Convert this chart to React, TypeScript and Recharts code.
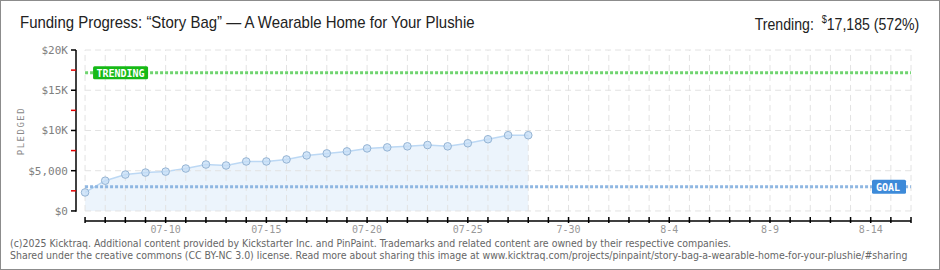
import { ComposedChart, Area, XAxis, YAxis, ReferenceLine } from "recharts";

if (typeof document !== "undefined") document.body.style.margin = "0";

// pledged totals per day, starting 07-06
const pledged = [
  2300, 3760, 4520, 4770, 4890, 5270, 5770, 5650, 6150, 6150, 6400, 6900,
  7150, 7400, 7770, 7900, 8030, 8190, 8030, 8410, 8910, 9410, 9410,
];
const dayCount = 42; // 07-06 .. 08-16
const labelDays = [4, 9, 14, 19, 24, 29, 34, 39];
const labelText = ["07-10", "07-15", "07-20", "07-25", "7-30", "8-4", "8-9", "8-14"];
const yTicks = [0, 2500, 5000, 7500, 10000, 12500, 15000, 17500, 20000];
const gridY = [0, 5000, 10000, 15000, 20000];
const goal = 3000;
const trending = 17185;

const data = pledged.map((v, i) => ({ day: i, value: v }));
const days = Array.from({ length: dayCount }, (_, i) => i);

const pixelFont = "'DejaVu Sans Mono', monospace";
const titleFont = "'Liberation Sans', Arial, sans-serif";

function fmtY(v: number) {
  if (v === 0) return "$0";
  if (v === 5000) return "$5,000";
  return `$${v / 1000}K`;
}

const YTick = (props: any) => {
  const { x, y, payload } = props;
  const major = payload.value % 5000 === 0;
  return (
    <g>
      <line x1={x + 3} x2={x + 8} y1={y} y2={y} stroke={major ? "#000" : "#e00000"} strokeWidth={1.5} />
      {major && (
        <text x={x} y={y} dy={4} textAnchor="end" fontSize={11} fontFamily={pixelFont} fill="#808080">
          {fmtY(payload.value)}
        </text>
      )}
    </g>
  );
};

const XTick = (props: any) => {
  const { x, y, payload } = props;
  const idx = labelDays.indexOf(payload.value);
  return (
    <g>
      <path d={`M${x},${y - 10}L${x},${y - 4}`} stroke="#000" strokeWidth={1.5} fill="none" />
      {idx >= 0 && (
        <text x={x} y={y + 6} textAnchor="middle" fontSize={10} fontFamily={pixelFont} fill="#999">
          {labelText[idx]}
        </text>
      )}
    </g>
  );
};

const TrendLabel = (props: any) => {
  const { viewBox } = props;
  const x = viewBox.x + 8;
  const y = viewBox.y;
  return (
    <g>
      <rect x={x} y={y - 6.5} width={55} height={13} rx={1.5} fill="#16b916" />
      <text x={x + 27.5} y={y + 4} textAnchor="middle" fontSize={10} fontWeight="bold" fontFamily={pixelFont} fill="#fff">
        TRENDING
      </text>
    </g>
  );
};

const GoalLabel = (props: any) => {
  const { viewBox } = props;
  const x = viewBox.x + viewBox.width - 39;
  const y = viewBox.y;
  return (
    <g>
      <rect x={x} y={y - 7} width={34} height={14} rx={1.5} fill="#3d8ad9" />
      <text x={x + 16} y={y + 4} textAnchor="middle" fontSize={10} fontWeight="bold" fontFamily={pixelFont} fill="#fff">
        GOAL
      </text>
    </g>
  );
};

export default function App() {
  return (
    <div
      style={{
        position: "relative",
        width: 940,
        height: 270,
        boxSizing: "border-box",
        border: "1px solid #8c8c8c",
        background: "#fff",
        overflow: "hidden",
      }}
    >
      <div
        style={{
          position: "absolute",
          left: 19,
          top: 12,
          fontFamily: titleFont,
          fontSize: 17,
          color: "#222",
          whiteSpace: "nowrap",
          transform: "scaleX(0.88)",
          transformOrigin: "left center",
        }}
      >
        Funding Progress: “Story Bag” — A Wearable Home for Your Plushie
      </div>
      <div
        style={{
          position: "absolute",
          right: 20,
          top: 12,
          fontFamily: titleFont,
          fontSize: 17,
          color: "#222",
          whiteSpace: "nowrap",
          transform: "scaleX(0.83)",
          transformOrigin: "right center",
        }}
      >
        Trending:&nbsp; <sup style={{ fontSize: 11 }}>$</sup>17,185 (572%)
      </div>
      <div
        style={{
          position: "absolute",
          left: 20,
          top: 130,
          transform: "translate(-50%, -50%) rotate(-90deg)",
          fontFamily: pixelFont,
          fontSize: 9,
          letterSpacing: 1.5,
          color: "#888",
        }}
      >
        PLEDGED
      </div>
      <div style={{ position: "absolute", left: 0, top: 0 }}>
        <ComposedChart width={938} height={268} data={data} margin={{ top: 49, right: 28, bottom: 18, left: 0 }}>
          <XAxis
            type="number"
            dataKey="day"
            domain={[-0.45, dayCount - 1]}
            allowDataOverflow
            ticks={days}
            interval={0}
            axisLine={false}
            tickLine={{ stroke: "transparent" }}
            tickSize={4}
            tickMargin={2}
            height={30}
            tick={<XTick />}
          />
          <YAxis
            type="number"
            domain={[-1250, 20000]}
            allowDataOverflow
            ticks={yTicks}
            interval={0}
            axisLine={false}
            tickLine={{ stroke: "transparent" }}
            tickSize={5}
            tickMargin={3}
            width={75}
            tick={<YTick />}
          />
          {days.map((d) => (
            <ReferenceLine
              key={`v${d}`}
              segment={[{ x: d, y: 0 }, { x: d, y: 20000 }]}
              stroke="#e2e2e2"
              strokeDasharray="6 4"
              ifOverflow="visible"
            />
          ))}
          {gridY.map((v) => (
            <ReferenceLine
              key={`h${v}`}
              segment={[{ x: 0, y: v }, { x: dayCount - 1, y: v }]}
              stroke="#e2e2e2"
              strokeDasharray="6 4"
              ifOverflow="visible"
            />
          ))}
          <Area
            type="linear"
            dataKey="value"
            baseValue={0}
            stroke="#bcd8f4"
            strokeWidth={1.5}
            fill="#e6f0fb"
            fillOpacity={0.75}
            dot={{ r: 3.8, fill: "#c4ddf7", stroke: "#95b4d4", strokeWidth: 1 }}
            activeDot={false}
            isAnimationActive={false}
          />
          <ReferenceLine
            segment={[{ x: 0, y: goal }, { x: dayCount - 1, y: goal }]}
            stroke="#8fb7e2"
            strokeWidth={3}
            strokeDasharray="3 2"
            ifOverflow="visible"
            label={<GoalLabel />}
          />
          <ReferenceLine
            segment={[{ x: 0, y: trending }, { x: dayCount - 1, y: trending }]}
            stroke="#6fd36f"
            strokeWidth={3}
            strokeDasharray="3 2"
            ifOverflow="visible"
            label={<TrendLabel />}
          />
          <ReferenceLine
            segment={[{ x: -0.45, y: -100 }, { x: -0.45, y: 20000 }]}
            stroke="#000"
            strokeWidth={1.5}
            ifOverflow="visible"
          />
          <ReferenceLine
            segment={[{ x: 0, y: -1250 }, { x: dayCount - 1, y: -1250 }]}
            stroke="#000"
            strokeWidth={1.5}
            ifOverflow="visible"
          />
        </ComposedChart>
      </div>
      <div
        style={{
          position: "absolute",
          left: 9,
          top: 237,
          fontFamily: "'DejaVu Sans', sans-serif",
          fontSize: 10,
          lineHeight: "12px",
          color: "#666",
          whiteSpace: "nowrap",
          transform: "scaleX(0.94)",
          transformOrigin: "left top",
        }}
      >
        (c)2025 Kicktraq. Additional content provided by Kickstarter Inc. and PinPaint. Trademarks and related content are owned by their respective companies.
        <br />
        Shared under the creative commons (CC BY-NC 3.0) license. Read more about sharing this image at www.kicktraq.com/projects/pinpaint/story-bag-a-wearable-home-for-your-plushie/#sharing
      </div>
    </div>
  );
}
